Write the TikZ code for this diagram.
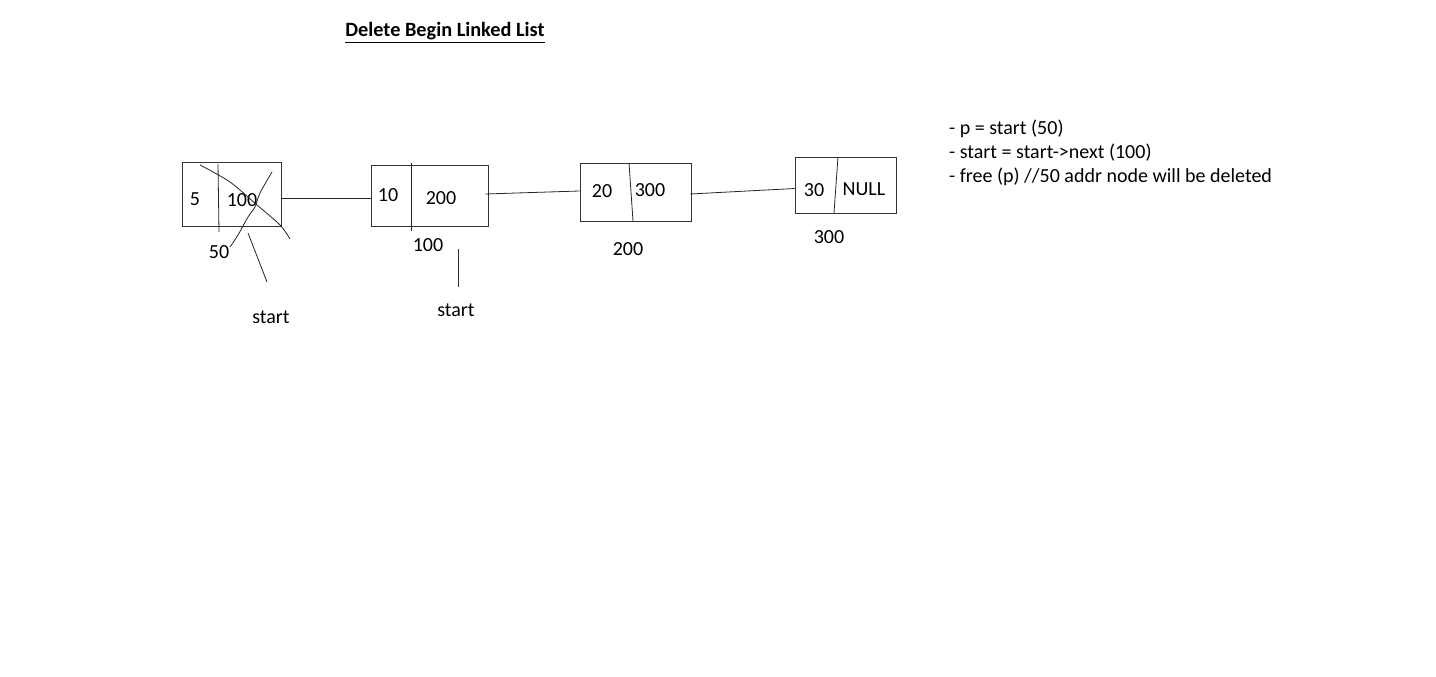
\documentclass[tikz,border=0pt]{standalone}
\usepackage{fontspec}
\setmainfont{Carlito}
\begin{document}
\begin{tikzpicture}[x=1pt,y=-1pt,
  cell/.style={draw=black!80, line width=0.8pt, inner sep=0pt, rectangle},
  lbl/.style={inner sep=0pt, font=\fontsize{20}{22}\selectfont},
  ln/.style={line width=0.8pt, draw=black!85}]
\useasboundingbox[fill=white] (0,0) rectangle (1436,677);
% title
\node[inner sep=0pt, anchor=base, font=\fontsize{20.3}{22}\selectfont\bfseries] (title) at (445,37) {\underline{Delete Begin Linked List}};
% boxes
\node[cell, minimum width=99pt, minimum height=64pt] (n1) at (231.5,194) {};
\node[cell, minimum width=117pt, minimum height=61pt] (n2) at (429.5,195.5) {};
\node[cell, minimum width=111pt, minimum height=58pt] (n3) at (635.5,192) {};
\node[cell, minimum width=101pt, minimum height=56pt] (n4) at (845.5,185) {};
% dividers
\draw[ln] (218,164) -- (219,232);
\draw[ln] (411,163) -- (411,231);
\draw[ln] (629,163) -- (633,221);
\draw[ln] (838,157) -- (834,213);
% contents
\node[lbl] (v1) at (195,199) {5};
\node[lbl] (a1) at (242,200) {100};
\node[lbl] (v2) at (388,195) {10};
\node[lbl] (a2) at (441,198) {200};
\node[lbl] (v3) at (602,191) {20};
\node[lbl] (a3) at (650,190) {300};
\node[lbl] (v4) at (814,190) {30};
\node[lbl] (a4) at (864,189) {NULL};
% addresses
\node[lbl] (ad1) at (219,252) {50};
\node[lbl] (ad2) at (428,245) {100};
\node[lbl] (ad3) at (628,249) {200};
\node[lbl] (ad4) at (829,237) {300};
% start labels
\node[lbl] (s1) at (271,317) {start};
\node[lbl] (s2) at (456,310) {start};
\coordinate (p1a) at (248,233);
\coordinate (p1b) at (267,282);
\coordinate (p2a) at (458.5,249);
\coordinate (p2b) at (458.5,287);
\draw[ln] (p1a) -- (p1b);
\draw[ln] (p2a) -- (p2b);
% connectors
\draw[ln] ([yshift=-4pt]n1.east) -- ([yshift=-2.5pt]n2.west);
\draw[ln] ([xshift=-3pt,yshift=1.5pt]n2.east) -- ([yshift=1pt]n3.west);
\draw[ln] ([xshift=-1pt,yshift=-2pt]n3.east) -- ([yshift=-3.5pt]n4.west);
% crossing out first node
\draw[ln] plot[smooth] coordinates {(200,165) (230,182) (257,205) (280,225) (290,239)};
\draw[ln] plot[smooth] coordinates {(272,172) (260,193) (255,207) (248,217) (238,235) (230,247)};
% notes
\node[lbl, anchor=base west] (t1) at (949,134) {- p = start (50)};
\node[lbl, anchor=base west] (t2) at (949,158) {- start = start->next (100)};
\node[lbl, anchor=base west] (t3) at (949,182) {- free (p) //50 addr node will be deleted};
\end{tikzpicture}
\end{document}
